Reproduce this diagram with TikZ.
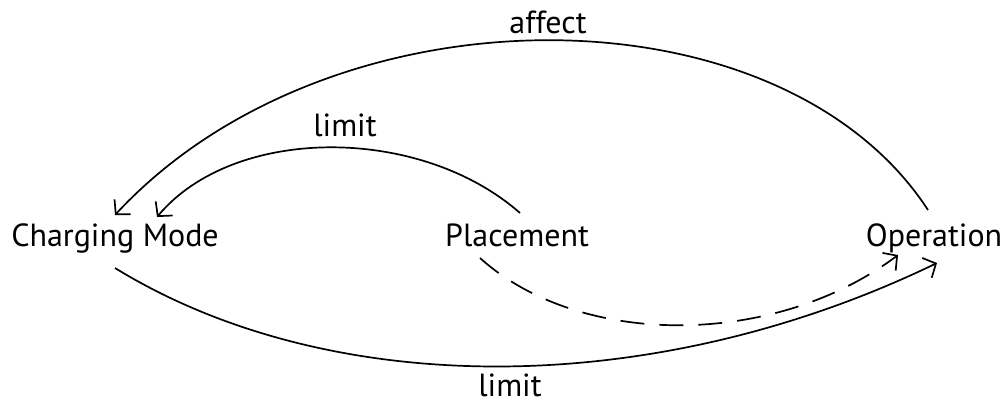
\documentclass[tikz,border=0pt]{standalone}
\usepackage{fontspec}
\setmainfont{PT Sans}
\usetikzlibrary{arrows.meta}
\begin{document}
\begin{tikzpicture}[x=1pt,y=-1pt,
  lbl/.style={anchor=base,inner sep=0pt,font=\fontsize{32}{38}\selectfont},
  conn/.style={line width=1.7pt,-{Straight Barb[length=10pt,width=22pt,line width=1.7pt]}},
  dashconn/.style={conn,dash pattern=on 24pt off 15pt}]
\useasboundingbox (0,0) rectangle (1006,408);
\node[lbl] (cm) at (115,246) {Charging Mode};
\node[lbl] (pl) at (517,246) {Placement};
\node[lbl] (op) at (934,246) {Operation};
\node[lbl] (la) at (548,33) {affect};
\node[lbl] (lu) at (345,136) {limit};
\node[lbl] (ll) at (510,396) {limit};
\draw[conn] ([shift={(-6,-36)}]op.base) .. controls (780,-17) and (330,-17) .. ([shift={(0,-31)}]cm.base);
\draw[conn] ([shift={(3,-33)}]pl.base) .. controls (420,125) and (234,125) .. ([shift={(42,-29)}]cm.base);
\draw[conn] ([shift={(0,22)}]cm.base) .. controls (330,400) and (653,400) .. ([shift={(3,17)}]op.base);
\draw[dashconn] ([shift={(-37,12)}]pl.base) .. controls (580,348) and (774,348) .. ([shift={(-36,9)}]op.base);
\end{tikzpicture}
\end{document}
